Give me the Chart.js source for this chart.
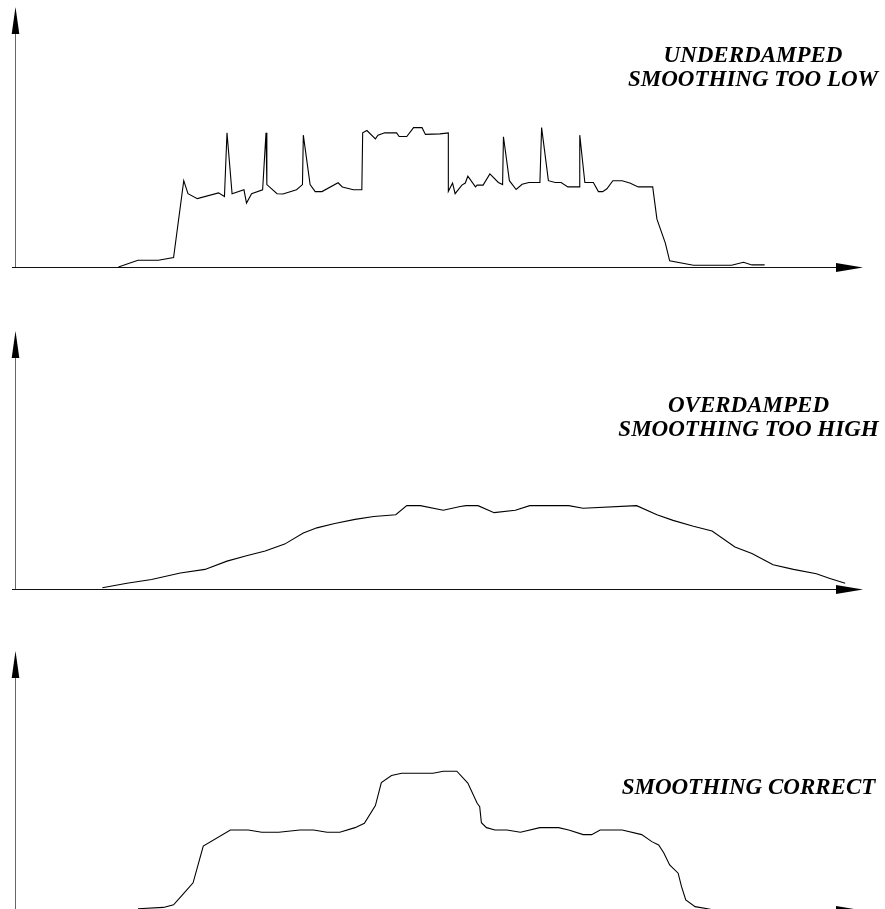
<!DOCTYPE html>
<html><head><meta charset="utf-8">
<script src="https://cdn.jsdelivr.net/npm/chart.js@4"></script>
<style>
html,body{margin:0;padding:0;width:885px;height:909px;overflow:hidden;background:#fff}
.panel{position:absolute;left:0;width:885px;height:300px}
.lbl{position:absolute;transform:translateX(-50%);white-space:nowrap;text-align:center;font-family:"Liberation Serif","Times New Roman",serif;font-weight:bold;font-style:italic;font-size:23px;line-height:23.5px;color:#000}
</style></head>
<body>
<div class="panel" style="top:0"><canvas id="c1" width="885" height="300"></canvas></div>
<div class="panel" style="top:320px"><canvas id="c2" width="885" height="300"></canvas></div>
<div class="panel" style="top:640px"><canvas id="c3" width="885" height="300"></canvas></div>
<div class="lbl" style="left:753px;top:43px">UNDERDAMPED<br>SMOOTHING TOO LOW</div>
<div class="lbl" style="left:748.5px;top:393px">OVERDAMPED<br>SMOOTHING TOO HIGH</div>
<div class="lbl" style="left:748.5px;top:775px">SMOOTHING CORRECT</div>
<script>
// Panel 1: underdamped (time 0..100, amplitude 0..100)
const underTime = [12.2,14.5,16.9,18.7,19.9,20.4,21.5,24.0,24.7,25.0,25.6,27.0,27.3,27.9,29.2,29.6,29.7,30.9,31.6,33.2,33.9,34.0,34.8,35.4,36.2,38.1,38.6,39.9,40.9,41.0,41.5,42.5,42.8,43.6,45.0,45.3,46.2,47.0,48.0,48.4,50.1,51.1,51.1,51.6,51.9,52.7,53.1,53.4,54.3,54.5,55.2,56.0,57.0,57.5,57.6,58.3,59.1,59.8,60.6,61.9,62.1,62.9,63.7,64.4,65.2,66.6,66.6,67.2,68.2,68.8,69.3,69.8,70.5,71.6,72.5,73.5,75.2,75.7,76.7,77.2,80.0,84.5,85.9,86.9,88.4];
const underValue = [0,2.6,2.6,3.6,33.2,28.2,26.3,28.5,27.1,51.6,28.2,29.7,24.6,28.2,29.7,51.6,31.7,28.2,28.1,29.7,31.7,50.7,31.7,29.0,29.0,32.4,30.8,29.7,29.7,51.6,52.5,49.3,50.7,51.6,51.6,50.2,50.2,53.6,53.6,51.0,51.2,51.6,29.1,32.3,28.2,31.5,32.3,34.9,30.8,31.5,31.5,35.8,32.5,31.7,50.1,33.2,29.8,31.8,32.5,32.5,53.6,33.2,32.5,32.5,30.8,30.8,50.7,32.5,32.5,29.0,29.0,30.1,33.2,33.2,32.3,30.8,30.8,18.4,9.1,2.4,0.7,0.7,1.8,0.8,0.8];

// Panel 2: overdamped
const overTime = [10.3,13.2,16.1,19.5,22.4,25.0,27.3,29.5,31.8,34.0,35.6,37.7,40.1,42.3,44.9,46.2,47.8,50.5,52.5,53.2,54.6,56.5,59.0,60.7,65.3,67.0,73.3,75.7,77.6,80.0,82.2,84.9,86.9,89.4,91.8,94.5,96.1,97.9];
const overValue = [0.5,2.2,3.7,6.2,7.6,10.8,12.9,14.7,17.4,21.7,23.7,25.4,27.0,28.1,28.8,32.3,32.3,30.5,32.0,32.3,32.3,29.6,30.5,32.3,32.3,31.3,32.3,28.8,26.6,24.3,22.5,16.3,13.8,9.4,7.6,5.9,4.1,2.2];

// Panel 3: correct smoothing
const correctTime = [14.5,17.5,18.7,19.9,21.0,22.2,25.4,27.5,29.1,31.1,33.6,35.2,36.8,38.3,40.1,41.2,42.5,43.2,44.4,45.6,49.3,50.5,52.1,53.4,54.5,54.8,55.0,55.6,56.6,58.0,59.6,61.9,64.1,65.3,67.0,68.0,69.0,71.6,73.9,75.1,75.9,76.5,77.2,78.2,78.6,79.1,80.2,82.0];
const correctValue = [0.5,1.0,2.0,6.4,10.5,24.7,30.9,30.9,30.0,30.0,30.9,30.9,30.0,30.0,31.8,33.5,40.3,49.2,51.9,52.8,52.8,53.6,53.6,49.0,41.2,39.9,33.7,31.8,30.9,30.9,30.0,31.8,31.8,30.9,29.1,29.1,30.9,30.9,29.1,26.4,25.1,22.1,17.4,14.2,9.0,3.9,1.3,0.3];

const axesArrows = {
  id: 'axesArrows',
  beforeDatasetsDraw(chart) {
    const {ctx, chartArea: a} = chart;
    const x0 = Math.round(a.left) + 0.5, y0 = Math.round(a.bottom) + 0.5;
    ctx.save();
    ctx.lineWidth = 1;
    ctx.strokeStyle = '#666';
    ctx.beginPath();
    ctx.moveTo(x0, a.top + 20); ctx.lineTo(x0, y0);
    ctx.stroke();
    ctx.strokeStyle = '#111';
    ctx.lineWidth = 1.2;
    ctx.beginPath();
    ctx.moveTo(a.left - 3, y0); ctx.lineTo(a.right - 20, y0);
    ctx.stroke();
    ctx.fillStyle = '#000';
    ctx.beginPath();
    ctx.moveTo(x0, a.top); ctx.lineTo(x0 - 3.8, a.top + 27); ctx.lineTo(x0 + 3.8, a.top + 27);
    ctx.closePath(); ctx.fill();
    ctx.beginPath();
    ctx.moveTo(a.right, y0); ctx.lineTo(a.right - 27, y0 - 4.5); ctx.lineTo(a.right - 27, y0 + 4.5);
    ctx.closePath(); ctx.fill();
    ctx.restore();
  }
};

function makeChart(id, xs, ys, pad) {
  return new Chart(document.getElementById(id), {
    type: 'line',
    data: { datasets: [{
      data: xs.map((x, i) => ({x: x, y: ys[i]})),
      borderColor: '#000', borderWidth: 1.1, pointRadius: 0, tension: 0, clip: false, fill: false
    }]},
    options: {
      responsive: false, animation: false, events: [],
      layout: { padding: pad },
      plugins: { legend: {display: false}, tooltip: {enabled: false}, title: {display: false} },
      scales: {
        x: { type: 'linear', min: 0, max: 100, display: false },
        y: { type: 'linear', min: 0, max: 100, display: false }
      }
    },
    plugins: [axesArrows]
  });
}

makeChart('c1', underTime, underValue, {left: 15, right: 22, top: 7, bottom: 33});
makeChart('c2', overTime, overValue, {left: 15, right: 22, top: 11, bottom: 31});
makeChart('c3', correctTime, correctValue, {left: 15, right: 22, top: 11, bottom: 30});
</script>
</body></html>
